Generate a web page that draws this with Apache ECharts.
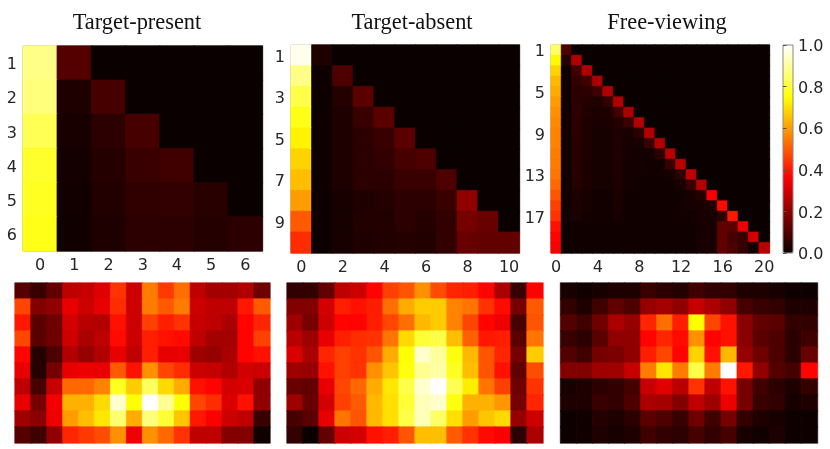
<!DOCTYPE html>
<html>
<head>
<meta charset="utf-8">
<style>
html, body { margin: 0; padding: 0; background: #fff; }
#main { width: 830px; height: 449px; }
</style>
<script src="https://cdn.jsdelivr.net/npm/echarts@6/dist/echarts.min.js"></script>
</head>
<body>
<div id="main"></div>
<script>
var titles = ['Target-present', 'Target-absent', 'Free-viewing'];
var colorbarTicks = [0, 0.2, 0.4, 0.6, 0.8, 1];

// top row, one list per fixation, cells to the right of the list are 0
var targetPresent = [
	[.88, .11],
	[.87, .03, .09],
	[.83, .02, .05, .09],
	[.79, .015, .04, .07, .08],
	[.78, .012, .035, .055, .06, .045],
	[.77, .01, .03, .05, .05, .04, .05]
];
var targetAbsent = [
	[.98, .03],
	[.88, .005, .1],
	[.82, .005, .04, .12],
	[.77, .005, .03, .07, .12],
	[.73, .005, .03, .05, .07, .12],
	[.68, .005, .03, .05, .06, .09, .1],
	[.65, .005, .03, .05, .05, .07, .07, .1],
	[.6, .005, .02, .03, .04, .05, .05, .07, .2],
	[.5, .005, .02, .035, .035, .05, .04, .06, .16, .14],
	[.43, .005, .02, .03, .035, .04, .035, .06, .14, .13, .13]
];
var freeViewing = [
	[.85, .1],
	[.74, .04, .25],
	[.68, .01, .08, .25],
	[.64, .01, .06, .08, .24],
	[.62, .01, .05, .05, .08, .25],
	[.6, .01, .05, .04, .03, .06, .25],
	[.58, .01, .05, .035, .025, .03, .08, .24],
	[.57, .01, .05, .03, .025, .025, .04, .07, .25],
	[.56, .01, .05, .03, .02, .02, .03, .025, .05, .25],
	[.56, .01, .045, .03, .02, .02, .03, .02, .02, .07, .25],
	[.55, .01, .045, .03, .02, .02, .03, .02, .015, .015, .05, .26],
	[.55, .01, .045, .025, .02, .02, .03, .015, .015, .012, .012, .07, .26],
	[.54, .01, .045, .025, .02, .02, .03, .015, .012, .012, .012, .02, .05, .27],
	[.52, .01, .04, .025, .02, .02, .03, .015, .012, .01, .01, .012, .02, .07, .26],
	[.49, .01, .03, .02, .012, .012, .025, .01, .01, .01, .01, .01, .012, .02, .04, .36],
	[.46, .01, .03, .02, .012, .012, .025, .01, .01, .01, .01, .01, .012, .02, .02, .03, .38],
	[.44, .01, .025, .015, .012, .012, .02, .01, .01, .01, .01, .01, .012, .012, .02, .02, .05, .4],
	[.39, .005, .01, .01, .01, .01, .01, .01, .01, .01, .01, .01, .01, .01, .02, .02, .13, .12, .34],
	[.37, .005, .01, .01, .01, .01, .01, .01, .01, .01, .01, .01, .01, .01, .02, .02, .13, .09, .07, .3],
	[.36, .005, .01, .01, .01, .01, .01, .01, .01, .01, .01, .01, .01, .01, .02, .02, .13, .1, .06, .01, .26]
];

// bottom row, spatial maps
var mapPresent = [
	[.11, .07, .13, .27, .28, .32, .44, .29, .55, .45, .53, .27, .23, .23, .25, .15],
	[.47, .18, .2, .33, .29, .33, .43, .29, .55, .5, .55, .29, .27, .27, .4, .5],
	[.4, .12, .15, .3, .26, .25, .39, .29, .46, .41, .44, .28, .27, .24, .37, .42],
	[.47, .12, .15, .29, .24, .27, .38, .29, .41, .39, .38, .27, .23, .23, .37, .46],
	[.37, .04, .1, .25, .21, .25, .33, .27, .41, .33, .33, .22, .21, .24, .37, .39],
	[.33, .04, .16, .33, .34, .33, .5, .39, .58, .47, .43, .29, .28, .25, .3, .29],
	[.27, .09, .28, .52, .52, .56, .78, .67, .84, .69, .62, .39, .37, .3, .31, .2],
	[.33, .16, .35, .63, .63, .69, .95, .75, 1, .89, .75, .47, .43, .31, .39, .2],
	[.22, .19, .34, .6, .65, .71, .86, .62, .87, .8, .66, .4, .36, .29, .27, .07],
	[.11, .08, .2, .42, .45, .48, .58, .34, .58, .52, .44, .27, .27, .18, .18, .01]
];
var mapAbsent = [
	[.06, .06, .13, .27, .29, .37, .46, .49, .58, .48, .42, .41, .37, .24, .07, .365],
	[.18, .18, .3, .41, .39, .41, .53, .62, .67, .67, .56, .54, .44, .38, .16, .5],
	[.22, .16, .29, .37, .37, .41, .47, .53, .64, .67, .56, .47, .37, .34, .09, .49],
	[.26, .22, .33, .41, .43, .44, .54, .69, .8, .82, .65, .51, .4, .41, .12, .54],
	[.31, .24, .42, .46, .44, .49, .62, .75, .95, .9, .76, .64, .49, .42, .16, .67],
	[.22, .21, .39, .46, .44, .58, .66, .76, .89, .91, .78, .65, .49, .39, .13, .48],
	[.14, .13, .33, .47, .52, .62, .71, .82, .95, 1, .83, .72, .54, .46, .15, .44],
	[.22, .14, .3, .46, .5, .64, .7, .8, .93, .95, .76, .63, .63, .59, .16, .42],
	[.09, .12, .33, .54, .49, .64, .7, .82, .93, .85, .7, .6, .66, .69, .21, .29],
	[.06, 0, .13, .29, .3, .39, .41, .49, .65, .65, .5, .44, .38, .36, .05, .24]
];
var mapFree = [
	[.02, .01, .02, .03, .03, .07, .05, .04, .08, .06, .06, .03, .03, .02, .005, .005],
	[.06, .03, .08, .13, .1, .21, .23, .2, .28, .24, .2, .09, .07, .06, .03, .03],
	[.11, .08, .15, .24, .21, .42, .53, .41, .75, .47, .39, .19, .13, .12, .06, .06],
	[.07, .05, .12, .2, .2, .37, .42, .38, .58, .37, .39, .19, .12, .1, .05, .08],
	[.11, .08, .16, .17, .2, .41, .47, .37, .68, .39, .64, .21, .15, .1, .05, .14],
	[.18, .18, .22, .22, .28, .55, .71, .55, .82, .55, 1, .4, .2, .11, .09, .37],
	[.02, .03, .05, .06, .09, .28, .32, .26, .44, .27, .39, .16, .08, .05, .03, .06],
	[.03, .03, .07, .06, .1, .24, .23, .18, .27, .22, .34, .16, .07, .06, .02, .03],
	[.005, .01, .04, .03, .05, .12, .1, .07, .15, .08, .16, .06, .03, .02, .005, .005],
	[.005, .01, .03, .02, .03, .08, .06, .05, .09, .06, .09, .02, .01, .03, .005, .005]
];

var topMaps = [targetPresent, targetAbsent, freeViewing];
var bottomMaps = [mapPresent, mapAbsent, mapFree];
var topCols = [7, 11, 21];
var topBox = [
	{ left: 23, top: 46, width: 239.5, height: 205 },
	{ left: 291, top: 45, width: 228.5, height: 208 },
	{ left: 551, top: 45, width: 218.5, height: 208 }
];
var bottomBox = [
	{ left: 15, top: 283, width: 255, height: 160 },
	{ left: 287, top: 283, width: 256, height: 160 },
	{ left: 560.5, top: 283, width: 257, height: 160 }
];
var titleX = [132, 407, 662];
var labelStep = [1, 2, 4];   // a label every n cells

// matplotlib "hot"
function hot(t) {
	var r = Math.min(1, 0.0416 + t / 0.365 * 0.9584);
	var g = Math.max(0, Math.min(1, (t - 0.365) / 0.381));
	var b = Math.max(0, Math.min(1, (t - 0.746) / 0.254));
	return 'rgb(' + Math.round(r * 255) + ',' + Math.round(g * 255) + ',' + Math.round(b * 255) + ')';
}
var hotStops = [];
for (var s = 0; s <= 100; s++) hotStops.push(hot(s / 100));

function labelsFrom(n, start) {
	var out = [];
	for (var i = 0; i < n; i++) out.push(String(i + start));
	return out;
}
// thin border in the cell's own colour closes the hairline seams between cells
function cells(rows, nCols) {
	var out = [];
	rows.forEach(function (row, y) {
		for (var x = 0; x < nCols; x++) {
			var v = row[x] === undefined ? 0 : row[x];
			out.push({ value: [x, y, v], itemStyle: { borderColor: hot(v), borderWidth: 0.6 } });
		}
	});
	return out;
}

var tickFont = { fontFamily: 'DejaVu Sans', fontSize: 16, color: '#262626' };
var tickLine = { lineStyle: { color: '#555', width: 1 }, length: 3.5 };
// value labels sit a little low in the reference
var yLabelNudge = { verticalAlign: 'top', lineHeight: 4 };

var option = { animation: false, backgroundColor: '#fff', title: [], grid: [], xAxis: [], yAxis: [], series: [] };

titles.forEach(function (t, i) {
	option.title.push({
		text: t, left: titleX[i], top: 7, textAlign: 'center',
		textStyle: { fontFamily: 'Liberation Serif', fontSize: 22.4, fontWeight: 'normal', color: '#111' }
	});
});

topMaps.forEach(function (rows, i) {
	var every = function (idx) { return idx % labelStep[i] === 0; };
	option.grid.push(Object.assign({ show: true, borderColor: '#888', borderWidth: 1, backgroundColor: hot(0) }, topBox[i]));
	option.xAxis.push({
		type: 'category', gridIndex: i, data: labelsFrom(topCols[i], 0),
		axisLine: { show: false }, splitLine: { show: false },
		axisTick: Object.assign({ alignWithLabel: true, interval: every }, tickLine),
		axisLabel: Object.assign({ interval: every, margin: 7 }, tickFont)
	});
	option.yAxis.push({
		type: 'category', gridIndex: i, inverse: true, data: labelsFrom(rows.length, 1),
		axisLine: { show: false }, splitLine: { show: false },
		axisTick: Object.assign({ alignWithLabel: true, interval: every }, tickLine),
		axisLabel: Object.assign({ interval: every, margin: 6 }, yLabelNudge, tickFont)
	});
	option.series.push({
		type: 'heatmap', xAxisIndex: i, yAxisIndex: i, data: cells(rows, topCols[i]), silent: true
	});
});

bottomMaps.forEach(function (rows, i) {
	var k = i + 3;
	option.grid.push(Object.assign({ show: false }, bottomBox[i]));
	option.xAxis.push({ type: 'category', gridIndex: k, show: false, data: labelsFrom(rows[0].length, 0) });
	option.yAxis.push({ type: 'category', gridIndex: k, show: false, inverse: true, data: labelsFrom(rows.length, 0) });
	option.series.push({
		type: 'heatmap', xAxisIndex: k, yAxisIndex: k, data: cells(rows, rows[0].length), silent: true
	});
});

// colorbar, the strip is the visualMap, the scale is an empty axis on top of it
option.visualMap = {
	type: 'continuous', min: 0, max: 1, seriesIndex: [0, 1, 2, 3, 4, 5],
	left: 783, top: 45, itemWidth: 10, itemHeight: 208, padding: 0,
	calculable: false, showLabel: false, text: ['', ''], hoverLink: false, realtime: false,
	inRange: { color: hotStops }
};
option.grid.push({ left: 783, top: 45, width: 10, height: 208, show: true, borderColor: '#888', borderWidth: 1, backgroundColor: 'transparent', z: 6 });
option.xAxis.push({ type: 'value', gridIndex: 6, show: false, min: 0, max: 1 });
option.yAxis.push({
	type: 'value', gridIndex: 6, position: 'right', min: 0, max: 1, interval: 0.2, z: 6,
	axisLine: { show: false }, splitLine: { show: false },
	axisTick: Object.assign({ show: true }, tickLine),
	axisLabel: Object.assign({ margin: 5, formatter: function (v) {
		return colorbarTicks.indexOf(+v.toFixed(1)) >= 0 ? v.toFixed(1) : '';
	} }, yLabelNudge, tickFont)
});

var myChart = echarts.init(document.getElementById('main'), null, { renderer: 'canvas' });
myChart.setOption(option);
</script>
</body>
</html>
